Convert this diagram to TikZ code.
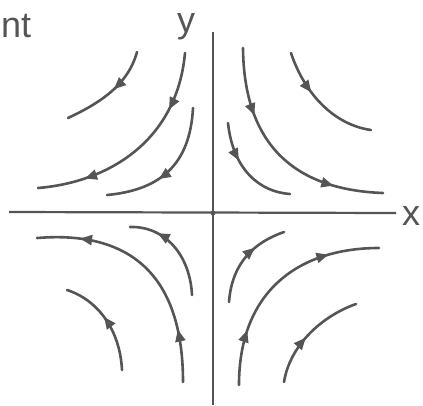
\documentclass[tikz,border=0pt]{standalone}
\usepackage{fontspec}
\setsansfont{Liberation Sans}
\usetikzlibrary{decorations.markings,arrows.meta}
\definecolor{ink}{HTML}{555555}
\tikzset{
  traj/.style={draw=ink,line width=2.6pt,line cap=round},
  arr/.style={postaction={decorate,decoration={markings,
     mark=at position #1 with {\arrow[ink]{Triangle[length=12pt,width=10pt]}}}}},
  axis/.style={draw=ink,line width=2.2pt},
  lbl/.style={text=ink,font=\sffamily\fontsize{36}{36}\selectfont,inner sep=0pt}
}
\begin{document}
\begin{tikzpicture}[x=1pt,y=-1pt]
\useasboundingbox[fill=white] (0,0) rectangle (423,405);
% axes
\coordinate (xl) at (9,212);
\coordinate (xr) at (396,213);
\coordinate (yt) at (213,32);
\coordinate (yb) at (213,405);
\draw[axis] (xl) -- (xr);
\draw[axis] (yt) -- (yb);
\node[circle,fill=ink,inner sep=0pt,minimum size=5pt] (o) at (213,213) {};
% labels
\node[lbl] (ylab) at (186,27) {y};
\node[lbl,anchor=west] (nt) at (1,26) {nt};
\node[lbl] (xlab) at (411,216) {x};
% top-left
\draw[traj,arr=0.45] (137,52) .. controls (128,85) and (100,103) .. (68,118);
\draw[traj,arr=0.27,arr=0.78] (185,53) .. controls (177,140) and (110,182) .. (38,188);
\draw[traj,arr=0.6] (193,108) .. controls (190,165) and (160,190) .. (107,195);
% top-right
\draw[traj,arr=0.38] (291,53) .. controls (305,95) and (335,125) .. (371,130);
\draw[traj,arr=0.3,arr=0.78] (243,48) .. controls (244,150) and (300,190) .. (383,193);
\draw[traj,arr=0.38] (228,123) .. controls (233,170) and (260,192) .. (290,194);
% bottom-left
\draw[traj,arr=0.22,arr=0.82] (183,382) .. controls (183,280) and (135,230) .. (37,238);
\draw[traj,arr=0.72] (192,295) .. controls (190,255) and (165,226) .. (130,227);
\draw[traj,arr=0.55] (122,370) .. controls (120,330) and (98,300) .. (67,290);
% bottom-right
\draw[traj,arr=0.65] (229,302) .. controls (232,262) and (255,242) .. (284,232);
\draw[traj,arr=0.25,arr=0.77] (239,385) .. controls (239,290) and (300,248) .. (379,248);
\draw[traj,arr=0.45] (284,382) .. controls (290,345) and (322,316) .. (356,304);
\end{tikzpicture}
\end{document}
